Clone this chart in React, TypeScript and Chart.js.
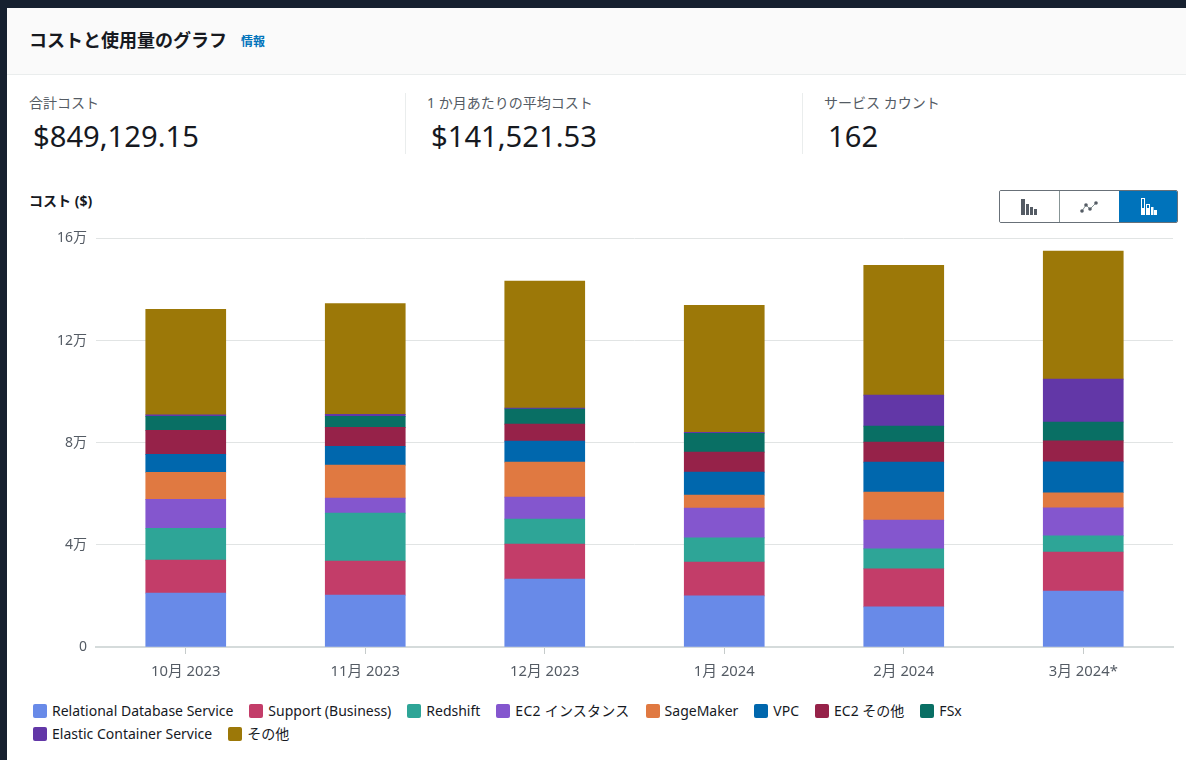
import React, { useEffect, useRef } from "react";
import { Chart, registerables } from "chart.js";

Chart.register(...registerables);

const months = ["10月 2023", "11月 2023", "12月 2023", "1月 2024", "2月 2024", "3月 2024*"];
const yTickLabels = ["0", "4万", "8万", "12万", "16万"];
const yStep = 40000;
const yMax = 160000;

const rds = [21100, 20300, 26600, 20000, 15700, 21900];
const support = [12900, 13300, 13700, 13300, 14900, 15300];
const redshift = [12500, 18800, 9800, 9400, 7800, 6300];
const ec2Instance = [11300, 5900, 8600, 11700, 11300, 11000];
const sageMaker = [10600, 12900, 13700, 5100, 11000, 5900];
const vpc = [7000, 7400, 8200, 9000, 11700, 12100];
const ec2Other = [9400, 7400, 6700, 7800, 7800, 8200];
const fsx = [5500, 4300, 5900, 7400, 6300, 7400];
const ecs = [600, 800, 400, 400, 12100, 16800];
const other = [41300, 43400, 49700, 49700, 50900, 50100];

const seriesNames = ["Relational Database Service", "Support (Business)", "Redshift", "EC2 インスタンス", "SageMaker", "VPC", "EC2 その他", "FSx", "Elastic Container Service", "その他"];
const seriesValues = [rds, support, redshift, ec2Instance, sageMaker, vpc, ec2Other, fsx, ecs, other];
const seriesColors = ["#688ae8", "#c33d69", "#2ea597", "#8456ce", "#e07941", "#0067ad", "#962249", "#096f64", "#6237a7", "#9c7808"];

const FONT = '"Noto Sans", "Noto Sans CJK JP", sans-serif';

const abs = (left: number, top: number, extra: React.CSSProperties = {}): React.CSSProperties => ({
  position: "absolute", left, top, whiteSpace: "nowrap", ...extra,
});

const kpis = [
  { label: "合計コスト", value: "$849,129.15", x: 29 },
  { label: "1 か月あたりの平均コスト", value: "$141,521.53", x: 427 },
  { label: "サービス カウント", value: "162", x: 824 },
];

function ToggleIcon({ kind }: { kind: number }) {
  if (kind === 0) {
    return (
      <svg width="18" height="18" viewBox="0 0 18 18">
        <rect x="1" y="1" width="4" height="16" fill="#545b64" />
        <rect x="6" y="6" width="3" height="11" fill="#545b64" />
        <rect x="10" y="9" width="3" height="8" fill="#545b64" />
        <rect x="14" y="11" width="3" height="6" fill="#545b64" />
      </svg>
    );
  }
  if (kind === 1) {
    return (
      <svg width="18" height="18" viewBox="0 0 18 18">
        <polyline points="2,13 6,7 10,11 16,5" fill="none" stroke="#879596" strokeWidth="1" />
        {[[2, 13], [6, 7], [10, 11], [16, 5]].map(([x, y], i) => <circle key={i} cx={x} cy={y} r="1.8" fill="#545b64" />)}
      </svg>
    );
  }
  return (
    <svg width="18" height="18" viewBox="0 0 18 18">
      <rect x="1.5" y="0.5" width="3" height="10" fill="none" stroke="#fff" strokeWidth="1" />
      <rect x="1" y="11" width="4" height="6" fill="#fff" />
      <rect x="6.5" y="6.5" width="3" height="4" fill="none" stroke="#fff" strokeWidth="1" />
      <rect x="6" y="11" width="4" height="6" fill="#fff" />
      <rect x="11" y="9" width="2.5" height="8" fill="#fff" />
      <rect x="14" y="12" width="3" height="5" fill="#fff" />
    </svg>
  );
}

export default function App() {
  const ref = useRef<HTMLCanvasElement>(null);

  useEffect(() => {
    document.body.style.margin = "0";
    document.body.style.background = "#16202f";
    const chart = new Chart(ref.current!, {
      type: "bar",
      data: {
        labels: months,
        datasets: seriesNames.map((name, i) => ({
          label: name,
          data: seriesValues[i],
          backgroundColor: seriesColors[i],
          borderWidth: 0,
          barThickness: 80,
          stack: "cost",
        })),
      },
      options: {
        animation: false,
        responsive: false,
        layout: { padding: { top: 9, right: 13, left: 0, bottom: 0 } },
        plugins: { legend: { display: false }, title: { display: false }, tooltip: { enabled: false } },
        scales: {
          x: {
            stacked: true,
            afterFit: (s: any) => { s.height = 48; },
            grid: { offset: false, drawOnChartArea: false, drawTicks: true, tickLength: 7, tickColor: "#c6cbcb" },
            border: { color: "#d5dbdb", width: 2 },
            ticks: { color: "#545b64", font: { family: FONT, size: 14.8 }, padding: 9, maxRotation: 0 },
          },
          y: {
            stacked: true,
            min: 0,
            max: yMax,
            afterFit: (s: any) => { s.width = 96; },
            grid: { color: "#e1e4e4", drawTicks: false, lineWidth: 1 },
            border: { display: false },
            ticks: {
              stepSize: yStep,
              color: "#545b64",
              padding: 9,
              font: { family: FONT, size: 14 },
              callback: (v: any) => yTickLabels[Math.round(Number(v) / yStep)],
            },
          },
        },
      },
    });
    return () => chart.destroy();
  }, []);

  return (
    <div style={{ position: "relative", width: 1186, height: 760, overflow: "hidden", background: "#16202f", fontFamily: FONT }}>
      <div style={abs(7, 8, { width: 1179, height: 752, background: "#fff" })} />
      <div style={abs(7, 8, { width: 1179, height: 66, background: "#fafafa", borderBottom: "1px solid #eaeded" })} />
      <div style={abs(29, 27, { fontSize: 18, lineHeight: "26px", fontWeight: 700, color: "#16191f" })}>コストと使用量のグラフ</div>
      <div style={abs(241, 33, { fontSize: 12, lineHeight: "18px", fontWeight: 700, color: "#0073bb" })}>情報</div>

      {kpis.map((k) => (
        <React.Fragment key={k.label}>
          <div style={abs(k.x, 93, { fontSize: 14, lineHeight: "20px", color: "#545b64" })}>{k.label}</div>
          <div style={abs(k.x + 4, 117, { fontSize: 29.2, lineHeight: "38px", color: "#16191f" })}>{k.value}</div>
        </React.Fragment>
      ))}
      <div style={abs(405, 93, { width: 1, height: 61, background: "#eaeded" })} />
      <div style={abs(802, 93, { width: 1, height: 61, background: "#eaeded" })} />

      <div style={abs(29, 191, { fontSize: 14, lineHeight: "20px", fontWeight: 700, color: "#16191f" })}>コスト ($)</div>

      <div style={abs(999, 190, { width: 179, height: 33, display: "flex", boxSizing: "border-box", border: "1px solid #687078", borderRadius: 2, overflow: "hidden" })}>
        {[0, 1, 2].map((k) => (
          <div key={k} style={{
            flex: k === 2 ? "0 0 59px" : "0 0 59.5px", display: "flex", alignItems: "center", justifyContent: "center",
            background: k === 2 ? "#0073bb" : "#fff", borderRight: k === 0 ? "1px solid #879596" : "none", boxSizing: "border-box",
          }}>
            <ToggleIcon kind={k} />
          </div>
        ))}
      </div>

      <canvas ref={ref} width={1186} height={474} style={abs(0, 221, { display: "block", width: 1186, height: 474 })} />

      <div style={abs(33, 701, { width: 1000, display: "flex", flexWrap: "wrap", columnGap: 16, rowGap: 1.5, whiteSpace: "normal" })}>
        {seriesNames.map((name, i) => (
          <React.Fragment key={name}>
            <div style={{ display: "flex", alignItems: "center", height: 20, fontSize: 14, lineHeight: "20px", color: "#16191f", letterSpacing: i === 3 ? 0.25 : 0 }}>
              <span style={{ width: 14, height: 14, borderRadius: 2, background: seriesColors[i], marginRight: 5, display: "inline-block" }} />
              {name}
            </div>
            {i === 7 && <div style={{ flexBasis: "100%", height: 0 }} />}
          </React.Fragment>
        ))}
      </div>
    </div>
  );
}
